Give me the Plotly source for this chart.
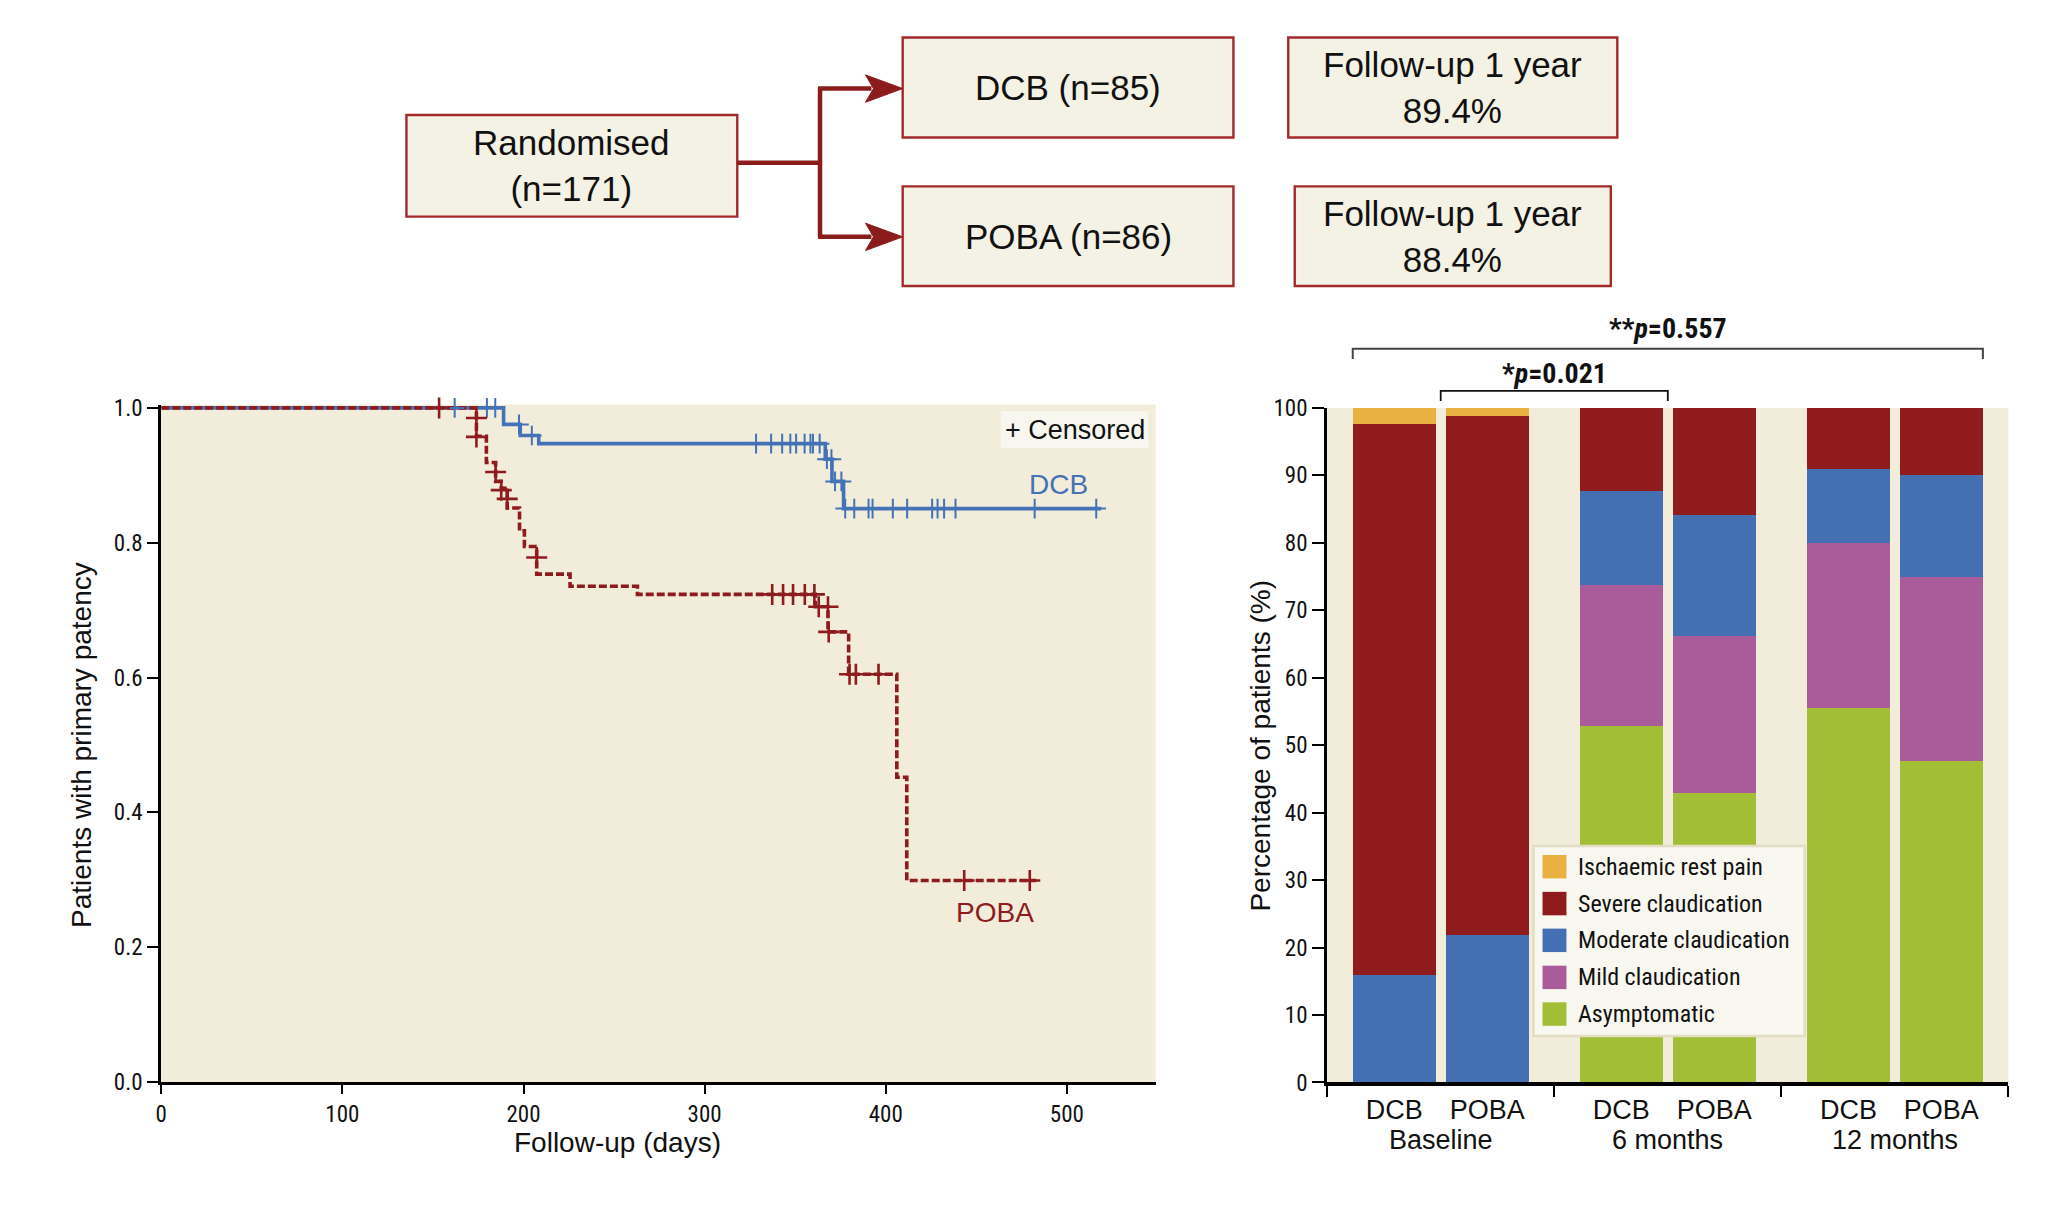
import plotly.graph_objects as go

W, H = 2067, 1205

# ---------------- Kaplan-Meier data ----------------
dcb_step_days = [0, 189.0, 198.2, 208.4, 366.6, 370.3, 376.7, 518.9]
dcb_step_surv = [1.0, 0.9755, 0.959, 0.947, 0.924, 0.891, 0.8506, 0.8506]
dcb_cens_days = [162.0, 179.8, 184.4, 197.5, 204.6,
                 328.4, 336.7, 342.8, 347.3, 350.5, 355.2, 358.4, 359.8, 363.5,
                 367.5, 370.0, 372.0, 375.5,
                 377.6, 382.6, 390.5, 392.7, 403.9, 411.8, 425.6, 428.6, 432.2, 438.5, 482.2, 516.2]
dcb_cens_surv = [1.0, 1.0, 1.0, 0.9755, 0.959,
                 0.947, 0.947, 0.947, 0.947, 0.947, 0.947, 0.947, 0.947, 0.947,
                 0.924, 0.924, 0.891, 0.891,
                 0.8506, 0.8506, 0.8506, 0.8506, 0.8506, 0.8506, 0.8506, 0.8506, 0.8506, 0.8506, 0.8506, 0.8506]

poba_step_days = [0, 174.0, 179.5, 184.6, 187.7, 191.0, 197.8, 200.5, 207.3, 225.7, 262.9,
                  361.1, 368.1, 379.5, 406.1, 411.6, 483.1]
poba_step_surv = [1.0, 0.958, 0.919, 0.891, 0.8806, 0.8515, 0.8177, 0.7945, 0.7534, 0.7354, 0.7233,
                  0.705, 0.6677, 0.6048, 0.452, 0.299, 0.299]
poba_cens_days = [153.4, 174.0, 174.0, 184.6, 187.7, 191.0, 207.3,
                  337.3, 343.3, 348.8, 355.3, 360.6, 363.0, 368.1, 368.5,
                  380.0, 383.5, 396.0, 443.3, 479.5]
poba_cens_surv = [1.0, 0.985, 0.957, 0.905, 0.878, 0.865, 0.778,
                  0.7233, 0.7233, 0.7233, 0.7233, 0.7233, 0.705, 0.705, 0.6677,
                  0.6048, 0.6048, 0.6048, 0.299, 0.299]

km_xticks = [0, 100, 200, 300, 400, 500]
km_yticks = [0.0, 0.2, 0.4, 0.6, 0.8, 1.0]

# ---------------- Stacked bar data ----------------
timepoints = ["Baseline", "6 months", "12 months"]
treatments = ["DCB", "POBA"]
category_names = ["Asymptomatic", "Mild claudication", "Moderate claudication",
                  "Severe claudication", "Ischaemic rest pain"]
asymptomatic = [0.0, 0.0, 52.9, 42.9, 55.5, 47.7]
mild = [0.0, 0.0, 20.9, 23.3, 24.5, 27.2]
moderate = [15.9, 21.9, 13.9, 18.0, 10.9, 15.2]
severe = [81.7, 76.9, 12.3, 15.8, 9.1, 9.9]
ischaemic = [2.4, 1.2, 0.0, 0.0, 0.0, 0.0]
bar_yticks = [0, 10, 20, 30, 40, 50, 60, 70, 80, 90, 100]
p_labels = ["*<i>p</i>=0.021", "**<i>p</i>=0.557"]

# ---------------- Flowchart text ----------------
flow_texts = ["Randomised<br>(n=171)", "DCB (n=85)", "POBA (n=86)",
              "Follow-up 1 year<br>89.4%", "Follow-up 1 year<br>88.4%"]

# ---------------- styles ----------------
NARROW = "Roboto Condensed, Noto Sans Condensed, Liberation Sans Narrow, DejaVu Sans Condensed, sans-serif"
REG = "Liberation Sans, Arial, sans-serif"
BG = "#f1edda"
BLUE = "#4472b6"
RED = "#8e1b1e"
TXT = "#111"
cat_colors = ["#a1be36", "#a95b9a", "#4470b3", "#8f1b1d", "#e9b042"]
series = [asymptomatic, mild, moderate, severe, ischaemic]


def px(x):
    return x / W


def py(y):
    return 1 - y / H


fig = go.Figure()

# KM curves
fig.add_trace(go.Scatter(x=dcb_step_days, y=dcb_step_surv, mode="lines", line_shape="hv",
                         line=dict(color=BLUE, width=3.6), showlegend=False, xaxis="x", yaxis="y"))
fig.add_trace(go.Scatter(x=poba_step_days, y=poba_step_surv, mode="lines", line_shape="hv",
                         line=dict(color=RED, width=3.6, dash="8px,3px"), showlegend=False,
                         xaxis="x", yaxis="y"))
fig.add_trace(go.Scatter(x=dcb_cens_days, y=dcb_cens_surv, mode="markers", cliponaxis=False,
                         marker=dict(symbol="cross-thin", size=14, line=dict(color=BLUE, width=2)),
                         showlegend=False, xaxis="x", yaxis="y"))
fig.add_trace(go.Scatter(x=poba_cens_days, y=poba_cens_surv, mode="markers", cliponaxis=False,
                         marker=dict(symbol="cross-thin", size=15, line=dict(color=RED, width=2.6)),
                         showlegend=False, xaxis="x", yaxis="y"))

# bars
GROUP_STEP = 2.445
BAR_W = 0.894
positions = [g * GROUP_STEP + j for g in range(len(timepoints)) for j in range(len(treatments))]
tick_text = [treatments[j] for g in range(len(timepoints)) for j in range(len(treatments))]
for name, vals, col in zip(category_names, series, cat_colors):
    fig.add_trace(go.Bar(x=positions, y=vals, width=BAR_W, name=name,
                         marker=dict(color=col, line=dict(width=0)),
                         showlegend=False, xaxis="x2", yaxis="y2"))

half = (GROUP_STEP - 1) / 2
x2_range = [-half, positions[-1] + half]
boundaries = [-half + k * GROUP_STEP for k in range(len(timepoints) + 1)]

shapes = []
annotations = []

# ---------------- axis titles ----------------
annotations.append(dict(x=px(75), y=py(749), xref="paper", yref="paper", textangle=-90,
                        text="Patients with primary patency", showarrow=False,
                        xanchor="center", yanchor="middle",
                        font=dict(family=REG, size=28, color=TXT)))
annotations.append(dict(x=px(613), y=py(1155), xref="paper", yref="paper",
                        text="Follow-up (days)", showarrow=False, xanchor="center", yanchor="middle",
                        font=dict(family=REG, size=28, color=TXT)))
annotations.append(dict(x=px(1258), y=py(749), xref="paper", yref="paper", textangle=-90,
                        text="Percentage of patients (%)", showarrow=False,
                        xanchor="center", yanchor="middle",
                        font=dict(family=REG, size=28, color=TXT)))

# ---------------- KM decorations ----------------
shapes.append(dict(type="rect", xref="paper", yref="paper", x0=px(997.7), x1=px(1145.7),
                   y0=py(445), y1=py(407.3), fillcolor="#f8f7ef", line=dict(width=0)))
annotations.append(dict(x=px(1071.7), y=py(426.5), xref="paper", yref="paper", text="+ Censored",
                        showarrow=False, xanchor="center", yanchor="middle",
                        font=dict(family=REG, size=27, color=TXT)))
annotations.append(dict(x=495.5, y=0.886, xref="x", yref="y", text="DCB", showarrow=False,
                        font=dict(family=REG, size=28, color=BLUE)))
annotations.append(dict(x=460.2, y=0.252, xref="x", yref="y", text="POBA", showarrow=False,
                        font=dict(family=REG, size=28, color=RED)))

# ---------------- bar chart decorations ----------------
for g, tp in enumerate(timepoints):
    annotations.append(dict(x=g * GROUP_STEP + 0.5, y=py(1153), xref="x2", yref="paper", text=tp,
                            showarrow=False, xanchor="center", yanchor="middle",
                            font=dict(family=REG, size=27, color=TXT)))

# brackets
b2_l = positions[0] + 0.5
b2_r = positions[2] + 0.5
b1_l = positions[0] - BAR_W / 2
b1_r = positions[-1] + BAR_W / 2
shapes.append(dict(type="path", xref="x2", yref="paper",
                   path=f"M{b1_l},{py(354)} L{b1_l},{py(343.5)} L{b1_r},{py(343.5)} L{b1_r},{py(354)}",
                   line=dict(color="#444", width=2)))
shapes.append(dict(type="path", xref="x2", yref="paper",
                   path=f"M{b2_l},{py(397)} L{b2_l},{py(386.5)} L{b2_r},{py(386.5)} L{b2_r},{py(397)}",
                   line=dict(color=TXT, width=1.8)))
annotations.append(dict(x=(b1_l + b1_r) / 2, y=py(323), xref="x2", yref="paper",
                        text="<b>" + p_labels[1] + "</b>", showarrow=False, xanchor="center", yanchor="middle",
                        font=dict(family=NARROW, size=28, color=TXT)))
annotations.append(dict(x=(b2_l + b2_r) / 2, y=py(369), xref="x2", yref="paper",
                        text="<b>" + p_labels[0] + "</b>", showarrow=False, xanchor="center", yanchor="middle",
                        font=dict(family=NARROW, size=28, color=TXT)))

# manual legend
shapes.append(dict(type="rect", xref="paper", yref="paper", x0=px(1532), x1=px(1804),
                   y0=py(1046.5), y1=py(852), fillcolor="#f8f7f0", line=dict(color="#e2ddc3", width=2.5)))
row_y = [873.3, 911, 948.6, 986.5, 1024]
for i, k in enumerate(reversed(range(len(category_names)))):
    yc = row_y[i]
    shapes.append(dict(type="rect", xref="paper", yref="paper", x0=px(1541), x1=px(1565),
                       y0=py(yc + 12), y1=py(yc - 12), fillcolor=cat_colors[k], line=dict(width=0)))
    annotations.append(dict(x=px(1575), y=py(yc), xref="paper", yref="paper",
                            text=category_names[k], showarrow=False, xanchor="left", yanchor="middle",
                            font=dict(family=NARROW, size=24, color=TXT)))

# ---------------- flowchart ----------------
BOX_FILL = "#f4f2e4"
BOX_LINE = "#a3292b"
boxes = [(401.6, 733.4, 104.3, 208.3), (899.3, 1231, 25, 127.3), (899.3, 1231, 177.3, 279.3),
         (1286, 1616, 25, 127.3), (1292.5, 1609.5, 177.3, 279.3)]
for (x0, x1, y0, y1), txt in zip(boxes, flow_texts):
    shapes.append(dict(type="rect", xref="paper", yref="paper", x0=px(x0), x1=px(x1),
                       y0=py(y1), y1=py(y0), fillcolor=BOX_FILL, line=dict(color=BOX_LINE, width=2.4)))
    annotations.append(dict(x=px((x0 + x1) / 2), y=py((y0 + y1) / 2), xref="paper", yref="paper",
                            text=txt, showarrow=False, xanchor="center", yanchor="middle",
                            font=dict(family=REG, size=35, color=TXT)))

ARROW = "#8b1c1c"
conn = [((733.4, 153.3), (816.4, 153.3)), ((816.4, 77.3), (816.4, 229)),
        ((814.4, 77.3), (868, 77.3)), ((814.4, 229), (868, 229))]
for (xa, ya), (xb, yb) in conn:
    shapes.append(dict(type="line", xref="paper", yref="paper", x0=px(xa), y0=py(ya),
                       x1=px(xb), y1=py(yb), line=dict(color=ARROW, width=4.5)))
for yc in (77.3, 229):
    path = (f"M{px(862)},{py(yc - 14)} L{px(899.3)},{py(yc)} L{px(862)},{py(yc + 14)} "
            f"L{px(870)},{py(yc)} Z")
    shapes.append(dict(type="path", xref="paper", yref="paper", path=path,
                       fillcolor=ARROW, line=dict(color=ARROW, width=1)))

axis_common = dict(showgrid=False, zeroline=False, showline=True, linecolor="#000",
                   ticks="outside", tickcolor="#000")

fig.update_layout(
    width=W, height=H, margin=dict(l=0, r=0, t=0, b=0),
    paper_bgcolor="white", plot_bgcolor=BG,
    barmode="stack", showlegend=False,
    xaxis=dict(domain=[px(155.7), px(1153)], range=[0, 549], tickmode="array", tickvals=km_xticks,
               ticklen=9, tickwidth=2, linewidth=3, anchor="y",
               tickfont=dict(family=NARROW, size=23, color=TXT), **axis_common),
    yaxis=dict(domain=[py(1093.5), py(400.5)], range=[0, 1.005], tickmode="array", tickvals=km_yticks,
               tickformat=".1f", ticklen=11, tickwidth=2, linewidth=3, anchor="x",
               tickfont=dict(family=NARROW, size=23, color=TXT), **axis_common),
    xaxis2=dict(domain=[px(1325), px(2008.3)], range=x2_range, tickmode="array", tickvals=positions,
                ticktext=tick_text, anchor="y2", showgrid=False, zeroline=False, showline=True,
                linecolor="#000", linewidth=3.5, ticks="", ticklen=0,
                tickfont=dict(family=REG, size=27, color=TXT),
                minor=dict(tickmode="array", tickvals=boundaries, ticks="outside", ticklen=11,
                           tickwidth=2, tickcolor="#000")),
    yaxis2=dict(domain=[py(1094), py(404)], range=[0, 100], tickmode="array", tickvals=bar_yticks,
                ticklen=12, tickwidth=2, linewidth=3, anchor="x2",
                tickfont=dict(family=NARROW, size=23, color=TXT), **axis_common),
    shapes=shapes, annotations=annotations,
)

fig.write_html("out.html", config={"displayModeBar": False},
               post_script="document.body.style.margin='0';document.body.style.overflow='hidden';")
